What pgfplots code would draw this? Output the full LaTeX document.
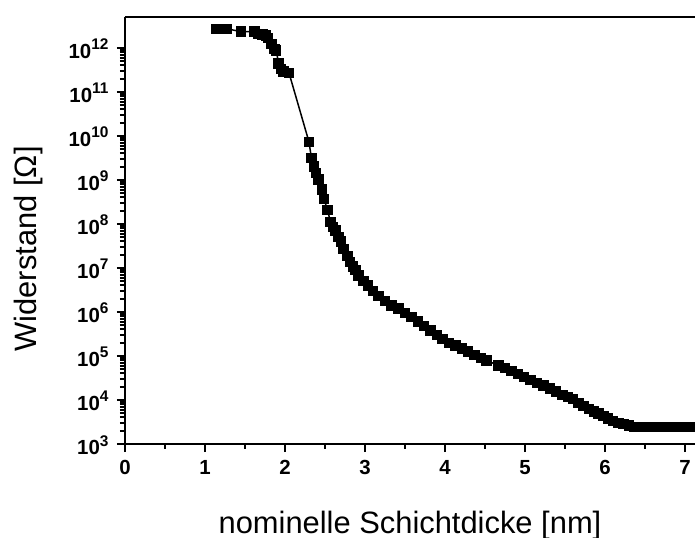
\documentclass[border=0pt]{standalone}
\usepackage{fontspec}
\setmainfont{Liberation Sans}
\usepackage{pgfplots}
\pgfplotsset{compat=1.18}
\newcommand\sexp[1]{\raisebox{0.42em}{\fontsize{15.5}{15.5}\selectfont #1}}
\begin{document}
\begin{tikzpicture}
\begin{axis}[name=ax,
  scale only axis, width=570bp, height=427bp,
  xmin=0, xmax=7.125, ymode=log, ymin=1e3, ymax=5e12,
  axis x line*=box, axis y line*=left,
  axis line style={line width=2.8bp},
  every tick/.style={black, line width=2bp},
  tick align=outside, tick pos=left,
  major tick length=8bp, minor tick length=5bp,
  xtick={0,1,2,3,4,5,6,7}, xticklabels={0,1,2,3,4,5,6,7},
  minor x tick num=1,
  ytick={1e3,1e4,1e5,1e6,1e7,1e8,1e9,1e10,1e11,1e12},
  yticklabels={10\sexp{3},10\sexp{4},10\sexp{5},10\sexp{6},10\sexp{7},10\sexp{8},10\sexp{9},10\sexp{10},10\sexp{11},10\sexp{12}},
  ticklabel style={font=\fontsize{20.5}{23}\selectfont\bfseries},
  yticklabel style={xshift=-5bp, yshift=-1bp},
  xticklabel style={yshift=-5bp},
  every axis y label/.style={at={(axis description cs:-0.170,0.457)}, anchor=center, rotate=90},
  every axis x label/.style={at={(axis description cs:0.5,0)}, yshift=-89bp, anchor=base},
  xlabel={nominelle Schichtdicke [nm]},
  ylabel={Widerstand [Ω]},
  label style={font=\fontsize{31}{36}\selectfont},
  clip=false,
]
\addplot[black, line width=1.5bp, mark=square*, mark size=4.4bp, mark options={solid}] coordinates {
(1.14,2.69e12) (1.27,2.69e12) (1.45,2.34e12) (1.62,2.34e12) (1.66,2.04e12)
(1.72,2.00e12) (1.76,1.91e12) (1.79,1.66e12) (1.83,1.20e12) (1.87,9.33e11)
(1.89,8.71e11) (1.92,4.37e11) (1.95,3.31e11) (1.98,2.88e11) (2.05,2.69e11)
(2.30,7.24e9) (2.33,3.16e9) (2.36,2.00e9) (2.39,1.41e9) (2.42,1.02e9)
(2.46,6.03e8) (2.49,3.63e8) (2.53,2.04e8) (2.57,1.12e8) (2.60,8.51e7)
(2.63,7.08e7) (2.67,5.01e7) (2.70,3.98e7) (2.73,2.69e7) (2.78,1.86e7)
(2.81,1.35e7) (2.85,1.07e7) (2.88,8.91e6) (2.92,6.76e6) (2.98,5.13e6)
(3.04,3.98e6) (3.10,3.02e6) (3.17,2.34e6) (3.25,1.78e6) (3.33,1.41e6)
(3.42,1.20e6) (3.50,9.55e5) (3.58,7.59e5) (3.66,6.03e5) (3.74,4.79e5)
(3.82,3.80e5) (3.90,2.95e5) (3.97,2.40e5) (4.05,2.00e5) (4.13,1.74e5)
(4.21,1.48e5) (4.29,1.26e5) (4.37,1.07e5) (4.45,9.12e4) (4.52,7.94e4)
(4.67,6.03e4) (4.75,5.25e4) (4.83,4.47e4) (4.91,3.89e4) (4.99,3.31e4)
(5.07,2.88e4) (5.15,2.45e4) (5.23,2.14e4) (5.31,1.82e4) (5.39,1.55e4)
(5.47,1.32e4) (5.54,1.15e4) (5.60,1.05e4) (5.67,8.51e3) (5.73,7.41e3)
(5.80,6.31e3) (5.86,5.50e3) (5.92,4.90e3) (5.98,4.37e3) (6.04,3.80e3)
(6.10,3.39e3) (6.17,3.02e3) (6.23,2.82e3) (6.30,2.63e3) (6.37,2.45e3)
(6.44,2.40e3) (6.52,2.40e3) (6.60,2.40e3) (6.68,2.40e3) (6.76,2.40e3)
(6.84,2.40e3) (6.92,2.40e3) (7.00,2.40e3) (7.08,2.40e3)
};
\end{axis}
\pgfresetboundingbox
\path[use as bounding box] ([xshift=-125bp,yshift=-94bp]ax.south west) rectangle ([yshift=17bp]ax.north east);
\end{tikzpicture}
\end{document}
